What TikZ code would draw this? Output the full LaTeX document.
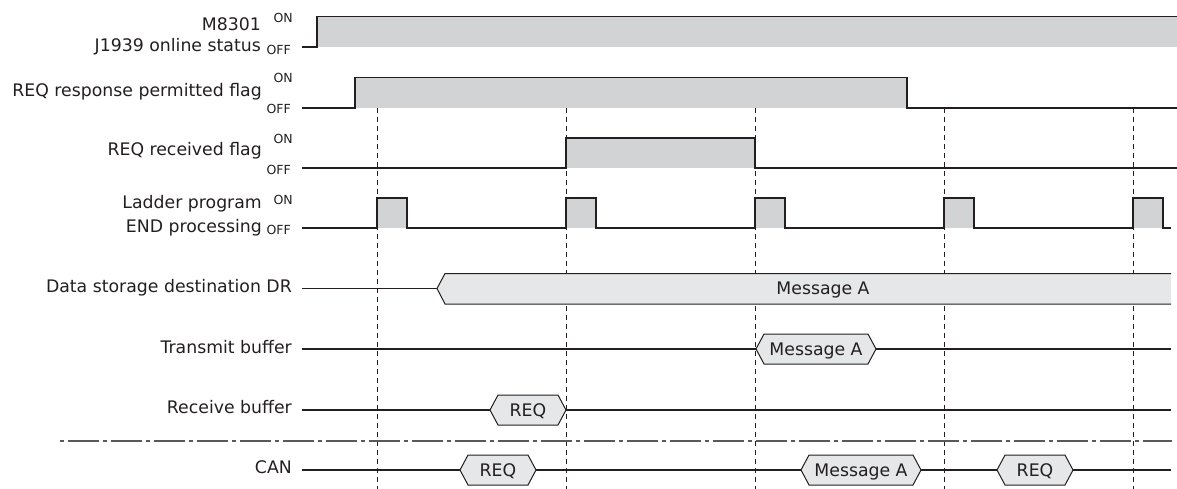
\documentclass[tikz,border=0pt]{standalone}
\usepackage{fontspec}
\setmainfont{DejaVu Sans}
\definecolor{ink}{RGB}{35,31,32}
\definecolor{sepgray}{RGB}{90,88,89}
\definecolor{pulsefill}{RGB}{209,211,212}
\definecolor{msgfill}{RGB}{230,231,232}
\tikzset{
  sig/.style={draw=ink, line width=1.3pt, line join=miter},
  busline/.style={draw=ink, line width=1.1pt},
  guide/.style={draw=ink, line width=0.9pt, dash pattern=on 5pt off 4pt},
  lbl/.style={text=ink, font=\fontsize{17.3}{20}\selectfont, inner sep=0pt, text height=12.6pt, text depth=0pt},
  st/.style={text=ink, font=\fontsize{12.5}{14}\selectfont, inner sep=0pt, text height=9.1pt, text depth=0pt},
  hexline/.style={draw=ink, line width=1pt, fill=msgfill},
  sepdash/.style={draw=sepgray, line width=2pt, dash pattern=on 4pt off 4pt on 31pt off 4pt},
}
\newcommand{\hexbox}[5]{%
  \draw[hexline] (#2,#4) -- (#2+8,#4-15) -- (#3-8,#4-15) -- (#3,#4) -- (#3-8,#4+15) -- (#2+8,#4+15) -- cycle;
  \node[lbl] (#1) at ({(#2+#3)/2},#4) {#5};}
\begin{document}
\begin{tikzpicture}[x=1pt,y=-1pt]
\useasboundingbox (0,0) rectangle (1177,489);
% guide lines
\foreach \gx in {377,566,755,944,1133} \draw[guide] (\gx,108) -- (\gx,489);
% separator
\coordinate (sepl) at (60,441);
\coordinate (sepr) at (1172,441);
\draw[sepdash] (sepl) -- (sepr);
% row 1
\fill[pulsefill] (317,16.5) rectangle (1177,47);
\draw[sig] (302,47) -- (317,47) -- (317,16.5) -- (1177,16.5);
% row 2
\fill[pulsefill] (355,77.5) rectangle (907,108);
\draw[sig] (302,108) -- (355,108) -- (355,77.5) -- (907,77.5) -- (907,108) -- (1177,108);
% row 3
\fill[pulsefill] (566,138) rectangle (755,168);
\draw[sig] (302,168) -- (566,168) -- (566,138) -- (755,138) -- (755,168) -- (1177,168);
% row 4
\foreach \px in {377,566,755,944,1133} \fill[pulsefill] (\px,198) rectangle (\px+30,228);
\draw[sig] (302,228) foreach \px in {377,566,755,944,1133} { -- (\px,228) -- (\px,198) -- (\px+30,198) -- (\px+30,228) } -- (1171,228);
% row 5 data storage
\draw[busline] (302,288.5) -- (437,288.5);
\draw[hexline] (1171,273.5) -- (445,273.5) -- (437,288.5) -- (445,304) -- (1171,304);
\node[lbl] (msgdr) at (823,288.5) {Message A};
% row 6 transmit
\draw[busline] (302,349) -- (1171,349);
\hexbox{msgtx}{756}{876}{349}{Message A}
% row 7 receive
\draw[busline] (302,410) -- (1171,410);
\hexbox{reqrx}{490}{566}{410}{REQ}
% row 8 CAN
\draw[busline] (302,470) -- (1171,470);
\hexbox{reqcan}{460}{536}{470}{REQ}
\hexbox{msgcan}{801}{921}{470}{Message A}
\hexbox{reqcanb}{997}{1073}{470}{REQ}
% labels
\node[lbl, anchor=east] (m8301) at (261,23.8) {M8301};
\node[lbl, anchor=east] (j1939) at (261,45.4) {J1939 online status};
\node[st, anchor=east] (on1) at (293,17.5) {ON};
\node[st, anchor=east] (off1) at (291,49.5) {OFF};
\node[lbl, anchor=east] (reqperm) at (262,90) {REQ response permitted flag};
\node[st, anchor=east] (on2) at (293,78) {ON};
\node[st, anchor=east] (off2) at (291,108.5) {OFF};
\node[lbl, anchor=east] (reqrecv) at (262,149.7) {REQ received flag};
\node[st, anchor=east] (on3) at (293,139) {ON};
\node[st, anchor=east] (off3) at (291,169.5) {OFF};
\node[lbl, anchor=east] (ladder) at (262,202) {Ladder program};
\node[lbl, anchor=east] (endproc) at (262,226.4) {END processing};
\node[st, anchor=east] (on4) at (293,199.5) {ON};
\node[st, anchor=east] (off4) at (291,229.5) {OFF};
\node[lbl, anchor=east] (dsd) at (292,286.4) {Data storage destination DR};
\node[lbl, anchor=east] (txb) at (292,347.5) {Transmit buffer};
\node[lbl, anchor=east] (rxb) at (292,407.5) {Receive buffer};
\node[lbl, anchor=east] (can) at (292,467.5) {CAN};
\end{tikzpicture}
\end{document}
